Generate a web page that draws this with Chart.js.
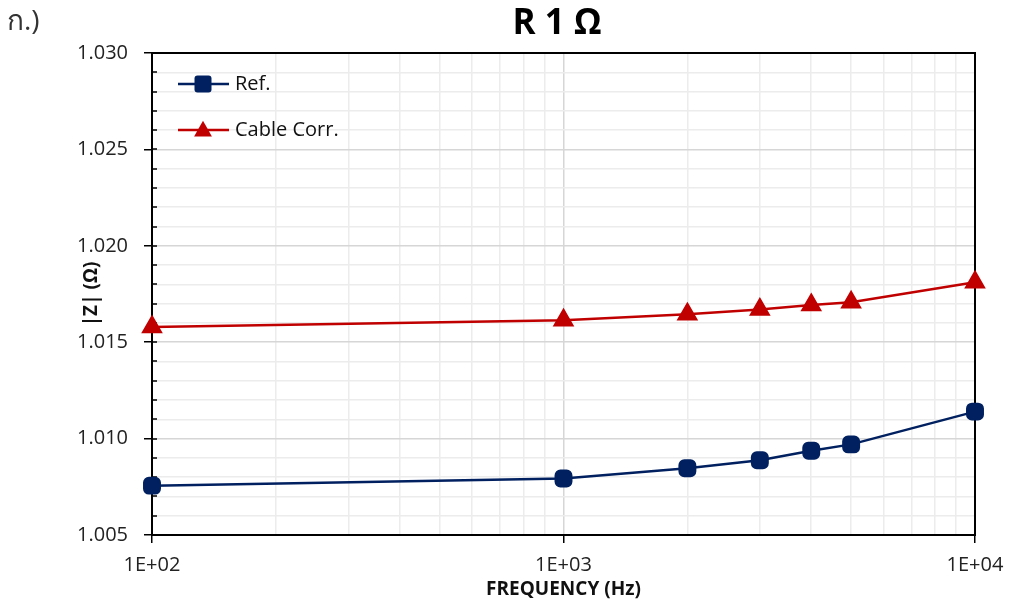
<!DOCTYPE html>
<html>
<head>
<meta charset="utf-8">
<script src="https://cdn.jsdelivr.net/npm/chart.js@4"></script>
<style>
  html, body { margin: 0; padding: 0; background: #fff; }
</style>
</head>
<body>
<canvas id="zChart" width="1009" height="603"></canvas>
<script>
/* DATA */
const frequencies = [100, 1000, 2000, 3000, 4000, 5000, 10000];
const refValues = [1.00756, 1.00793, 1.00846, 1.00888, 1.00937, 1.00970, 1.01140];
const cableCorrValues = [1.01579, 1.01614, 1.01645, 1.01670, 1.01693, 1.01707, 1.01811];
const seriesNames = ["Ref.", "Cable Corr."];
const xTickValues = [100, 200, 300, 400, 500, 600, 700, 800, 900, 1000,
  2000, 3000, 4000, 5000, 6000, 7000, 8000, 9000, 10000];
const xTickLabels = { 100: "1E+02", 1000: "1E+03", 10000: "1E+04" };
const chartTitle = "R 1 Ω";
const panelTag = "ก.)";

const FONT = "'Open Sans', 'Noto Sans', sans-serif";
const BLUE = "#002060";
const RED = "#C00000";

const isMajorY = v => Math.abs(v / 0.005 - Math.round(v / 0.005)) < 1e-6;
const isMajorX = v => Math.abs(Math.log10(v) - Math.round(Math.log10(v))) < 1e-9;

function drawMarker(ctx, style, x, y, r, color) {
    ctx.fillStyle = color;
    ctx.beginPath();
    if (style === "rectRounded") {
        ctx.roundRect(x - r, y - r, 2 * r, 2 * r, 3);
    } else {
        ctx.moveTo(x, y - r * 1.1);
        ctx.lineTo(x + r * 1.05, y + r * 0.75);
        ctx.lineTo(x - r * 1.05, y + r * 0.75);
        ctx.closePath();
    }
    ctx.fill();
}

/* frame, inner ticks, title and legend */
const decorations = {
    id: "decorations",
    beforeDatasetsDraw(chart) {
        const { ctx, chartArea: a } = chart;
        const y = chart.scales.y;
        ctx.save();
        ctx.strokeStyle = "#000";
        ctx.lineWidth = 2;
        ctx.strokeRect(a.left, a.top, a.right - a.left, a.bottom - a.top);
        ctx.lineWidth = 1.5;
        ctx.beginPath();
        y.ticks.forEach(t => {
            const py = Math.round(y.getPixelForValue(t.value));
            ctx.moveTo(a.left, py);
            ctx.lineTo(a.left + 5, py);
        });
        ctx.stroke();
        ctx.restore();
    },
    afterDraw(chart) {
        const { ctx } = chart;
        ctx.save();
        ctx.fillStyle = "#000";
        ctx.textBaseline = "middle";
        ctx.textAlign = "center";
        ctx.font = "bold 35px " + FONT;
        ctx.fillText(chartTitle, 557, 24);
        ctx.textAlign = "left";
        ctx.fillStyle = "#333";
        ctx.font = "28px " + FONT;
        ctx.fillText(panelTag, 7, 22);

        // legend
        ctx.font = "20px " + FONT;
        chart.data.datasets.forEach((ds, i) => {
            const ly = 84 + i * 46;
            ctx.strokeStyle = ds.borderColor;
            ctx.lineWidth = 2.5;
            ctx.beginPath();
            ctx.moveTo(178, ly);
            ctx.lineTo(229, ly);
            ctx.stroke();
            drawMarker(ctx, ds.pointStyle, 203, ly, 8.5, ds.borderColor);
            ctx.fillStyle = "#111";
            ctx.fillText(ds.label, 235, ly);
        });
        ctx.restore();
    }
};

new Chart(document.getElementById("zChart"), {
    type: "line",
    data: {
        labels: frequencies,
        datasets: [{
            label: seriesNames[0],
            data: frequencies.map((f, i) => ({ x: f, y: refValues[i] })),
            borderColor: BLUE,
            backgroundColor: BLUE,
            borderWidth: 2.5,
            pointStyle: "rectRounded",
            pointRadius: 9,
            pointHoverRadius: 9,
            tension: 0,
            clip: false
        }, {
            label: seriesNames[1],
            data: frequencies.map((f, i) => ({ x: f, y: cableCorrValues[i] })),
            borderColor: RED,
            backgroundColor: RED,
            borderWidth: 2.5,
            pointStyle: "triangle",
            pointRadius: 10,
            pointHoverRadius: 10,
            tension: 0,
            clip: false
        }]
    },
    options: {
        responsive: false,
        animation: false,
        layout: { padding: { left: 77, right: 34, top: 53, bottom: 0 } },
        plugins: {
            legend: { display: false },
            tooltip: { enabled: false }
        },
        scales: {
            x: {
                type: "logarithmic",
                min: 100,
                max: 10000,
                afterBuildTicks: s => { s.ticks = xTickValues.map(v => ({ value: v, major: isMajorX(v) })); },
                afterFit: s => { s.height = 68; s.paddingLeft = 0; s.paddingRight = 0; },
                border: { color: "#000", width: 2 },
                grid: {
                    color: c => isMajorX(c.tick.value) ? "#d6d6d6" : "#ececec",
                    lineWidth: 1.5,
                    tickColor: c => isMajorX(c.tick.value) ? "#000" : "rgba(0,0,0,0)",
                    tickLength: 8,
                    tickWidth: 1.5
                },
                ticks: {
                    autoSkip: false,
                    maxRotation: 0,
                    padding: 10,
                    color: "#222",
                    font: { family: FONT, size: 20 },
                    callback: v => xTickLabels[v] || ""
                },
                title: {
                    display: true,
                    text: "FREQUENCY (Hz)",
                    color: "#111",
                    font: { family: FONT, size: 19, weight: "bold" },
                    padding: { top: 0, bottom: 2 }
                }
            },
            y: {
                min: 1.005,
                max: 1.030,
                afterFit: s => { s.width = 75; s.paddingTop = 0; s.paddingBottom = 0; },
                border: { color: "#000", width: 2 },
                grid: {
                    color: c => isMajorY(c.tick.value) ? "#d6d6d6" : "#ececec",
                    lineWidth: 1.5,
                    tickColor: c => isMajorY(c.tick.value) ? "#000" : "rgba(0,0,0,0)",
                    tickLength: 8,
                    tickWidth: 1.5
                },
                ticks: {
                    stepSize: 0.001,
                    autoSkip: false,
                    padding: 16,
                    color: "#222",
                    font: { family: FONT, size: 20 },
                    callback: v => isMajorY(v) ? v.toFixed(3) : ""
                },
                title: {
                    display: true,
                    text: "|Z| (Ω)",
                    color: "#111",
                    font: { family: FONT, size: 19, weight: "bold" },
                    padding: { top: 3, bottom: 0 }
                }
            }
        }
    },
    plugins: [decorations]
});
</script>
</body>
</html>
